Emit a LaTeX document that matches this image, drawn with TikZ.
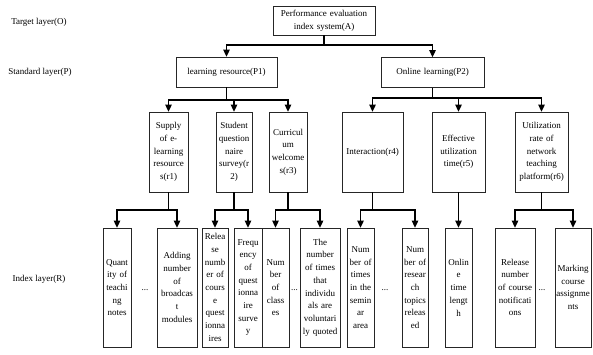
\documentclass[tikz,border=0pt]{standalone}
\usepackage{fontspec}
\setmainfont{Liberation Serif}
\usetikzlibrary{arrows.meta}
\begin{document}
\begin{tikzpicture}[x=1pt,y=-1pt,
  box/.style={draw=black!85, line width=0.7pt, align=center, inner xsep=0pt, inner ysep=0pt, font=\fontsize{9}{12.7}\selectfont, fill=white},
  bx/.style 2 args={box, text width=#1pt, minimum height=#2pt},
  arr/.style={line width=1.1pt, -{Triangle[length=7pt,width=6.5pt]}},
  ln/.style={line width=1.1pt},
  lbl/.style={font=\fontsize{9}{11}\selectfont},
  dots/.style={font=\fontsize{9}{11}\selectfont, inner sep=0pt}]
\useasboundingbox (0,0) rectangle (593,355);

% layer labels
\node[lbl] (LO) at (39,22) {Target layer(O)};
\node[lbl] (LP) at (40,72) {Standard layer(P)};
\node[lbl] (LR) at (39,279) {Index layer(R)};

% top
\node[bx={102}{29}] (A) at (324,20.5) {Performance evaluation\\index system(A)};
\node[bx={101}{30}] (P1) at (226.5,72) {learning resource(P1)};
\node[bx={103}{30}] (P2) at (432.5,72.5) {Online learning(P2)};

% criteria
\node[bx={39}{80}] (r1) at (168.5,152) {Supply\\of e-\\learning\\resource\\s(r1)};
\node[bx={36}{80}] (r2) at (234,152) {Student\\question\\naire\\survey(r\\2)};
\node[bx={38}{80}] (r3) at (288,152) {Curricul\\um\\welcome\\s(r3)};
\node[bx={61}{80}] (r4) at (372.5,152) {Interaction(r4)};
\node[bx={53}{80}] (r5) at (458.5,152) {Effective\\utilization\\time(r5)};
\node[bx={53}{80}] (r6) at (541.5,152) {Utilization\\rate of\\network\\teaching\\platform(r6)};

% indices
\node[bx={28}{119}] (q1) at (117,287.5) {Quant\\ity of\\teachi\\ng\\notes};
\node[bx={40}{119}] (q2) at (177,287.5) {Adding\\number\\of\\broadcas\\t\\modules};
\node[bx={26}{119}] (q3) at (215,287.5) {Relea\\se\\numb\\er of\\cours\\e\\quest\\ionna\\ires};
\node[bx={28}{119}] (q4) at (248,287.5) {Frequ\\ency\\of\\quest\\ionna\\ire\\surve\\y};
\node[bx={27}{119}] (q5) at (275.5,287.5) {Num\\ber\\of\\class\\es};
\node[bx={40}{119}] (q6) at (320,287.5) {The\\number\\of times\\that\\individu\\als are\\voluntari\\ly quoted};
\node[bx={27}{119}] (q7) at (360.5,287.5) {Num\\ber of\\times\\in the\\semin\\ar\\area};
\node[bx={26}{119}] (q8) at (415,287.5) {Num\\ber of\\resear\\ch\\topics\\releas\\ed};
\node[bx={27}{119}] (q9) at (458.5,287.5) {Onlin\\e\\time\\lengt\\h};
\node[bx={40}{119}] (q10) at (515,287.5) {Release\\number\\of course\\notificati\\ons};
\node[bx={36}{119}] (q11) at (573,287.5) {Marking\\course\\assignme\\nts};

% ellipses
\node[dots] (d1) at (145,290) {...};
\node[dots] (d2) at (294.5,290) {...};
\node[dots] (d3) at (385,290) {...};
\node[dots] (d4) at (542,290) {...};

% connectors
\coordinate (jA) at (324,45);
\draw[ln] (A.south) -- (jA);
\draw[arr] (jA) -| (P1.north);
\draw[arr] (jA) -| (P2.north);

\coordinate (j1) at (226.5,100);
\draw[ln] (P1.south) -- (j1);
\draw[arr] (j1) -| (r1.north);
\draw[arr] (j1) -| (r2.north);
\draw[arr] (j1) -| (r3.north);

\coordinate (j2) at (432.5,98);
\draw[ln] (P2.south) -- (j2);
\draw[arr] (j2) -| (r4.north);
\draw[arr] (j2) -| (r5.north);
\draw[arr] (j2) -| (r6.north);

\coordinate (k1) at (168.5,210);
\draw[ln] (r1.south) -- (k1);
\draw[arr] (k1) -| (q1.north);
\draw[arr] (k1) -| (q2.north);

\coordinate (k2) at (234,210);
\draw[ln] (r2.south) -- (k2);
\draw[arr] (k2) -| (q3.north);
\draw[arr] (k2) -| (q4.north);

\coordinate (k3) at (288,210);
\draw[ln] (r3.south) -- (k3);
\draw[arr] (k3) -| (q5.north);
\draw[arr] (k3) -| (q6.north);

\coordinate (k4) at (372.5,210);
\draw[ln] (r4.south) -- (k4);
\draw[arr] (k4) -| (q7.north);
\draw[arr] (k4) -| (q8.north);

\draw[arr] (r5.south) -- (q9.north);

\coordinate (k6) at (541.5,210);
\draw[ln] (r6.south) -- (k6);
\draw[arr] (k6) -| (q10.north);
\draw[arr] (k6) -| (q11.north);
\end{tikzpicture}
\end{document}
